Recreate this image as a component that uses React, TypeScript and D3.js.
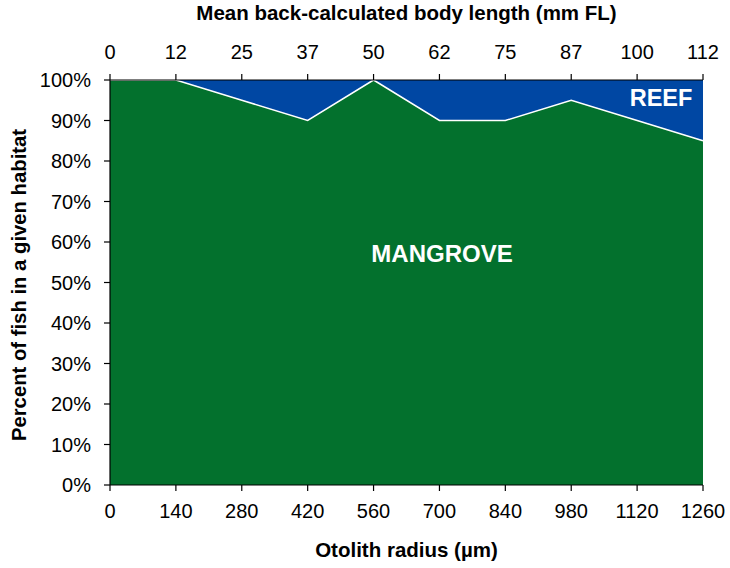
import React from "react";
import * as d3 from "d3";

const radius = [0, 140, 280, 420, 560, 700, 840, 980, 1120, 1260];
const mangrove = [100, 100, 95, 90, 100, 90, 90, 95, 90, 85];
const topTickLabels = ["0", "12", "25", "37", "50", "62", "75", "87", "100", "112"];
const yTicks = [0, 10, 20, 30, 40, 50, 60, 70, 80, 90, 100];

const W = 730, H = 568;
const M = { left: 110, right: 27, top: 80, bottom: 83 };

export default function App() {
  const x = d3.scaleLinear().domain([0, 1260]).range([M.left, W - M.right]);
  const y = d3.scaleLinear().domain([0, 100]).range([H - M.bottom, M.top]);
  const data = radius.map((r, i) => ({ r, m: mangrove[i] }));
  const areaM = d3.area<{ r: number; m: number }>().x(d => x(d.r)).y0(y(0)).y1(d => y(d.m))(data) || "";
  const areaR = d3.area<{ r: number; m: number }>().x(d => x(d.r)).y0(d => y(d.m)).y1(y(100))(data) || "";
  const line = d3.line<{ r: number; m: number }>().x(d => x(d.r)).y(d => y(d.m))(data) || "";
  const font = "Liberation Sans, Arial, sans-serif";
  const x0 = x(0), x1 = x(1260), yb = y(0), yt = y(100);
  return (
    <svg width={W} height={H} style={{ position: "absolute", left: 0, top: 0, background: "#fff" }} fontFamily={font}>
      <path d={areaR} fill="#0047A3" />
      <path d={areaM} fill="#03712D" />
      <path d={line} fill="none" stroke="#fff" strokeWidth={1.5} />
      {/* left axis */}
      <line x1={x0} x2={x0} y1={yt} y2={yb} stroke="#000" strokeWidth={1.2} />
      {yTicks.map(t => (
        <g key={t}>
          <line x1={x0 - 6} x2={x0} y1={y(t)} y2={y(t)} stroke="#000" strokeWidth={1.2} />
          <text x={x0 - 19} y={y(t)} dy="0.36em" textAnchor="end" fontSize={20}>{t + "%"}</text>
        </g>
      ))}
      {/* bottom axis */}
      <line x1={x0} x2={x1} y1={yb} y2={yb} stroke="#000" strokeWidth={1.2} />
      {radius.map(r => (
        <g key={r}>
          <line x1={x(r)} x2={x(r)} y1={yb} y2={yb + 6} stroke="#000" strokeWidth={1.2} />
          <text x={x(r)} y={yb + 33} textAnchor="middle" fontSize={20}>{r}</text>
        </g>
      ))}
      {/* top axis */}
      <line x1={x0} x2={x1} y1={yt} y2={yt} stroke="#000" strokeWidth={1.2} />
      {radius.map((r, i) => (
        <g key={"t" + r}>
          <line x1={x(r)} x2={x(r)} y1={yt - 6} y2={yt} stroke="#000" strokeWidth={1.2} />
          <text x={x(r)} y={yt - 21} textAnchor="middle" fontSize={20}>{topTickLabels[i]}</text>
        </g>
      ))}
      <text x={(x0 + x1) / 2} y={20} textAnchor="middle" fontSize={20.5} fontWeight="bold">Mean back-calculated body length (mm FL)</text>
      <text x={(x0 + x1) / 2} y={557} textAnchor="middle" fontSize={20.5} fontWeight="bold">Otolith radius (µm)</text>
      <text transform={`translate(25.5,285) rotate(-90)`} textAnchor="middle" fontSize={20.3} fontWeight="bold">Percent of fish in a given habitat</text>
      <text x={442} y={262} textAnchor="middle" fontSize={24} fontWeight="bold" fill="#fff">MANGROVE</text>
      <text x={661} y={106} textAnchor="middle" fontSize={23.5} fontWeight="bold" fill="#fff">REEF</text>
    </svg>
  );
}
